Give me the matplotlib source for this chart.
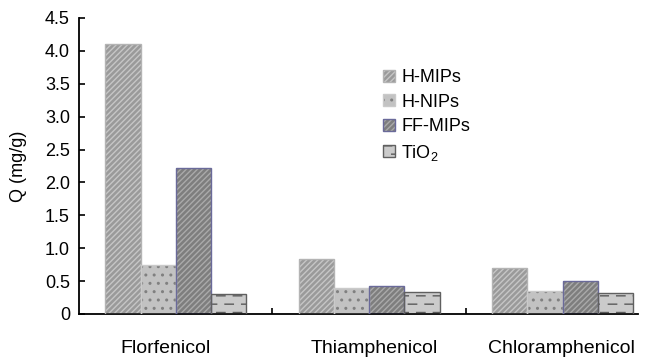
import numpy as np
import matplotlib
matplotlib.use("Agg")
import matplotlib.pyplot as plt
import matplotlib.transforms as mtransforms
from matplotlib import hatch as mhatch
from matplotlib.path import Path
from matplotlib.patches import Patch


# Dashed horizontal hatch: staggered short dashes instead of continuous lines
class DashedHorizontalHatch(mhatch.HatchPatternBase):
    def __init__(self, hatch, density):
        self.num_rows = int((hatch.count('-') + hatch.count('+')) * density)
        self.per_row = 6
        self.num_vertices = self.num_rows * self.per_row * 2

    def set_vertices_and_codes(self, vertices, codes):
        k = self.per_row
        i = 0
        for r in range(self.num_rows):
            y = (r + 0.5) / self.num_rows
            off = 0.0 if r % 2 == 0 else 0.5
            for j in range(k):
                x0 = (j + off) / k
                x1 = x0 + 0.5 / k
                vertices[i] = (x0, y)
                vertices[i + 1] = (x1, y)
                codes[i] = Path.MOVETO
                codes[i + 1] = Path.LINETO
                i += 2


mhatch._hatch_types[:] = [DashedHorizontalHatch if t is mhatch.HorizontalHatch else t
                          for t in mhatch._hatch_types]

plt.rcParams['font.family'] = ['Liberation Sans', 'DejaVu Sans']
plt.rcParams['mathtext.default'] = 'regular'
plt.rcParams['hatch.linewidth'] = 1.0

# Data
categories = ["Florfenicol", "Thiamphenicol", "Chloramphenicol"]
series = ["H-MIPs", "H-NIPs", "FF-MIPs", "TiO$_2$"]
h_mips = [4.11, 0.83, 0.70]
h_nips = [0.74, 0.39, 0.35]
ff_mips = [2.22, 0.43, 0.50]
tio2 = [0.31, 0.34, 0.32]
values = [h_mips, h_nips, ff_mips, tio2]
yticks = [0, 0.5, 1.0, 1.5, 2.0, 2.5, 3.0, 3.5, 4.0, 4.5]
ytick_labels = ["0", "0.5", "1.0", "1.5", "2.0", "2.5", "3.0", "3.5", "4.0", "4.5"]

# Styles: face colour, hatch colour, hatch pattern, outline colour
styles = [
    ("#9a9a9a", "#c6c6c6", "//////", "#b4b4b4"),
    ("#c2c2c2", "#808080", "..", "#cacaca"),
    ("#7e7e7e", "#aaaaaa", "//////", "#6a6a9a"),
    ("#cbcbcb", "#5a5a5a", "--", "#606060"),
]
# horizontal nudge of each category name, in pixels
label_nudge = [-10, 5, -1]

fig = plt.figure(figsize=(6.48, 3.6), dpi=100)
ax = fig.add_axes([79 / 648, 46 / 360, 559 / 648, 296 / 360])

x = np.arange(len(categories))
bw = 0.182
handles = []
for i, (vals, (fc, hc, hp, ec)) in enumerate(zip(values, styles)):
    pos = x + (i - 1.5) * bw
    ax.bar(pos, vals, bw, facecolor=fc, edgecolor=hc, hatch=hp, linewidth=0, zorder=2)
    ax.bar(pos, vals, bw, fill=False, edgecolor=ec, linewidth=1.0, zorder=3)
    handles.append((Patch(facecolor=fc, edgecolor=hc, hatch=hp, linewidth=0),
                    Patch(fill=False, edgecolor=ec, linewidth=1.0)))

ax.set_xlim(-0.5, 2.39)
ax.set_ylim(0, 4.5)
ax.set_yticks(yticks)
ax.set_yticklabels(ytick_labels)

# separator ticks between groups, category names centred under groups
ax.set_xticks([0.5, 1.5])
ax.set_xticklabels([])
ax.set_xticks(x, minor=True)
ax.set_xticklabels(categories, minor=True)
ax.tick_params(axis='x', which='major', direction='in', length=4.5, width=1.2)
ax.tick_params(axis='x', which='minor', length=0, pad=19, labelsize=14)
ax.tick_params(axis='y', direction='in', length=4.3, width=1.2, pad=6.5, labelsize=13)
for lab, dx in zip(ax.get_xticklabels(minor=True), label_nudge):
    lab.set_transform(lab.get_transform() +
                      mtransforms.ScaledTranslation(dx / 100, 0, fig.dpi_scale_trans))

for s in ['top', 'right']:
    ax.spines[s].set_visible(False)
for s in ['left', 'bottom']:
    ax.spines[s].set_linewidth(1.3)

ax.set_ylabel("Q (mg/g)", fontsize=13)
ax.yaxis.set_label_coords(-0.093, 0.5)

ax.legend(handles, series, loc='upper left', bbox_to_anchor=(383 / 648, 1 - 69 / 360),
          bbox_transform=fig.transFigure, frameon=False, fontsize=13,
          handlelength=0.65, handleheight=0.65, handletextpad=0.35,
          labelspacing=0.42, borderpad=0, borderaxespad=0)

fig.savefig("out.png", dpi=100)
